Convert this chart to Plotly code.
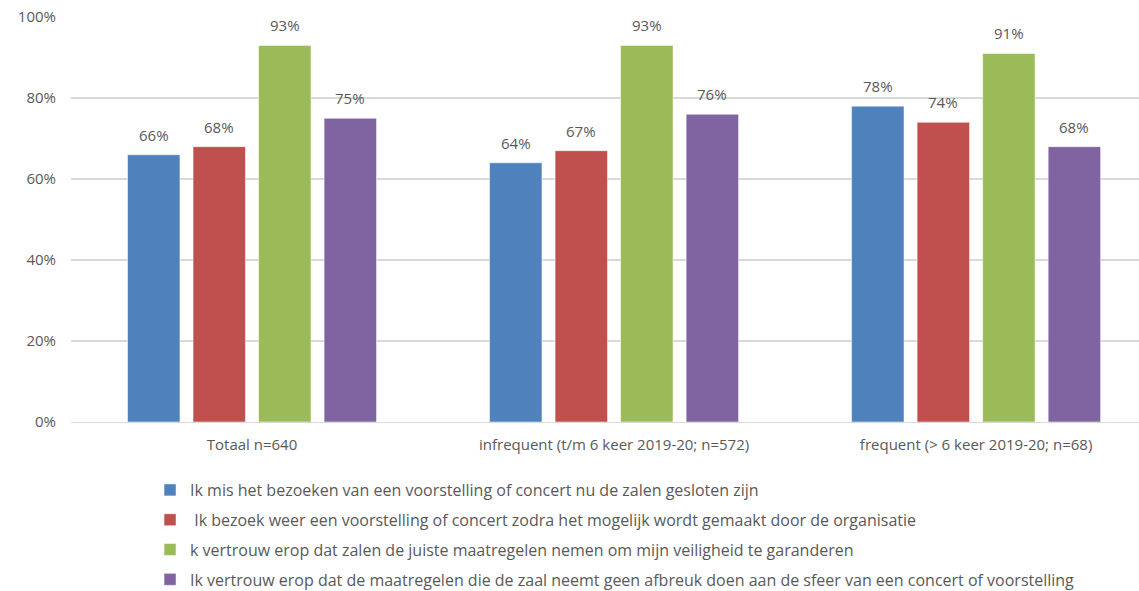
import plotly.graph_objects as go

categories = ["Totaal n=640", "infrequent (t/m 6 keer 2019-20; n=572)", "frequent (> 6 keer 2019-20; n=68)"]
series_names = [
    "Ik mis het bezoeken van een voorstelling of concert nu de zalen gesloten zijn",
    " Ik bezoek weer een voorstelling of concert zodra het mogelijk wordt gemaakt door de organisatie",
    "k vertrouw erop dat zalen de juiste maatregelen nemen om mijn veiligheid te garanderen",
    "Ik vertrouw erop dat de maatregelen die de zaal neemt geen afbreuk doen aan de sfeer van een concert of voorstelling",
]
s1 = [66, 64, 78]
s2 = [68, 67, 74]
s3 = [93, 93, 91]
s4 = [75, 76, 68]
colors = ["#4F81BD", "#C0504D", "#9BBB59", "#8064A2"]
y_ticks = [0, 20, 40, 60, 80, 100]

FONT = "Open Sans"
GRAY = "#595959"
BARGAP = 0.276
BARGROUPGAP = 0.2

all_series = [s1, s2, s3, s4]
fig = go.Figure()
for i, (name, vals) in enumerate(zip(series_names, all_series)):
    fig.add_trace(go.Bar(
        x=categories, y=vals, name=name,
        marker=dict(color=colors[i], line=dict(color="rgba(255,255,255,0.5)", width=1)),
        legendgroup=f"g{i}",
    ))

# data labels above bars, placed from the grouped-bar geometry
n = len(all_series)
slot = (1 - BARGAP) / n
annotations = []
for k, vals in enumerate(all_series):
    for ci, v in enumerate(vals):
        annotations.append(dict(
            x=ci + (k - (n - 1) / 2) * slot, y=v, xref="x", yref="y",
            text=f"{v}%", showarrow=False, yanchor="bottom", yshift=8,
            font=dict(family=FONT, size=15, color=GRAY),
        ))

fig.update_layout(
    width=1139, height=591,
    margin=dict(l=71, r=0, t=17, b=169, autoexpand=False),
    plot_bgcolor="white", paper_bgcolor="white",
    barmode="group", bargap=BARGAP, bargroupgap=BARGROUPGAP,
    font=dict(family=FONT, size=15, color=GRAY),
    showlegend=True,
    legend=dict(
        orientation="v", x=0.074, xanchor="left", y=-0.126, yanchor="top",
        font=dict(family=FONT, size=16, color=GRAY),
        tracegroupgap=6, itemwidth=30,
    ),
    annotations=annotations,
)
fig.update_xaxes(
    range=[-0.5, 2.45], showline=True, linecolor="#D9D9D9", linewidth=1,
    ticks="", tickfont=dict(family=FONT, size=15, color=GRAY),
    ticklabelstandoff=9, automargin=False, ticklabeloverflow="allow",
)
fig.update_yaxes(
    range=[0, 100.01], tickvals=y_ticks, ticktext=[f"{v}%" for v in y_ticks],
    showgrid=True, gridcolor="#D9D9D9", gridwidth=2, zeroline=False,
    tickfont=dict(family=FONT, size=15, color=GRAY), ticks="", ticklabelstandoff=14,
    automargin=False, ticklabeloverflow="allow",
)

fig.write_html("out.html", config={"displayModeBar": False},
               post_script="document.body.style.margin='0';")
